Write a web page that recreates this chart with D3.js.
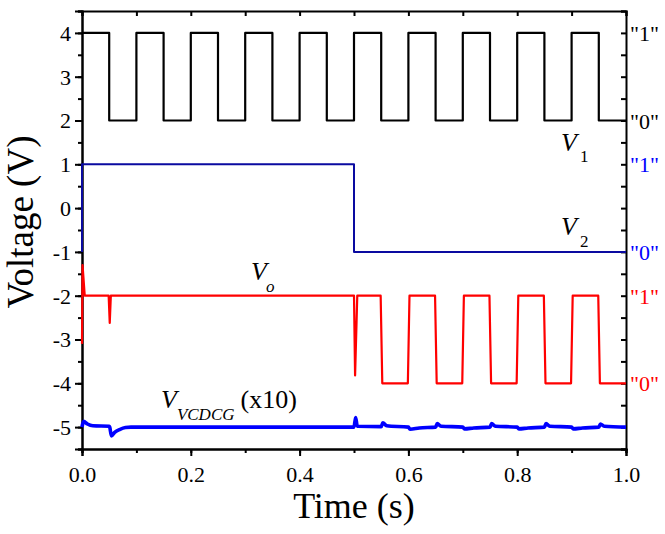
<!DOCTYPE html>
<html>
<head>
<meta charset="utf-8">
<script src="https://cdn.jsdelivr.net/npm/d3@7"></script>
<style>
  body { margin: 0; background: #fff; }
  svg text { font-family: 'Liberation Serif', 'Times New Roman', Times, serif; }
</style>
</head>
<body>
<svg id="chart" width="665" height="534"></svg>
<script>
// V1 square clock (step after)
const v1Time = [0, 0.05, 0.1, 0.15, 0.2, 0.25, 0.3, 0.35, 0.4, 0.45, 0.5,
                0.55, 0.6, 0.65, 0.7, 0.75, 0.8, 0.85, 0.9, 0.95, 1.0];
const v1Volt = [4, 2, 4, 2, 4, 2, 4, 2, 4, 2, 4, 2, 4, 2, 4, 2, 4, 2, 4, 2, 2];

// V2 input
const v2Time = [0, 0, 0.5, 0.5, 1.0];
const v2Volt = [-1, 1, 1, -1, -1];

// Vo output
const voTime = [0, 0.001, 0.005, 0.049, 0.051, 0.053, 0.5, 0.502, 0.506, 0.549, 0.552,
                0.599, 0.602, 0.649, 0.652, 0.699, 0.702, 0.749, 0.752, 0.799, 0.802,
                0.849, 0.852, 0.899, 0.902, 0.949, 0.952, 1.0];
const voVolt = [-3.1, -1.3, -2, -2, -2.62, -2, -2, -3.82, -2, -2, -4,
                -4, -2, -2, -4, -4, -2, -2, -4, -4, -2,
                -2, -4, -4, -2, -2, -4, -4];

// V_VCDCG (x10)
const vgTime = [0, 0.003, 0.01, 0.02, 0.05, 0.051, 0.054, 0.06, 0.07, 0.08, 0.09,
                0.5, 0.503, 0.506, 0.55, 0.553, 0.56, 0.6, 0.603, 0.62, 0.65, 0.653, 0.66,
                0.7, 0.703, 0.72, 0.75, 0.753, 0.76, 0.8, 0.803, 0.82, 0.85, 0.853, 0.86,
                0.9, 0.903, 0.92, 0.95, 0.953, 0.96, 1.0];
const vgVolt = [-5.0, -4.87, -4.93, -4.97, -4.98, -5.0, -5.2, -5.12, -5.05, -5.01, -5.0,
                -5.0, -4.78, -4.98, -4.99, -4.9, -4.97, -5.0, -5.05, -5.02, -5.0, -4.92, -4.98,
                -5.0, -5.04, -5.02, -5.0, -4.92, -4.98, -5.0, -5.04, -5.02, -5.0, -4.92, -4.98,
                -5.0, -5.04, -5.02, -5.0, -4.93, -4.98, -5.0];

// tick labels
const xTicks = [0, 0.2, 0.4, 0.6, 0.8, 1.0];
const yTicks = [4, 3, 2, 1, 0, -1, -2, -3, -4, -5];
const logicLevels = [4, 2, 1, -1, -2, -4];
const logicText = ['"1"', '"0"', '"1"', '"0"', '"1"', '"0"'];
const logicColor = ["#000", "#000", "#0000ff", "#0000ff", "#ff0000", "#ff0000"];

const serif = "'Liberation Serif', 'Times New Roman', Times, serif";
const margin = {top: 11, right: 39, bottom: 85, left: 82};
const width = 665, height = 534;
const iw = width - margin.left - margin.right;
const ih = height - margin.top - margin.bottom;

const svg = d3.select("#chart");
const g = svg.append("g").attr("transform", `translate(${margin.left},${margin.top})`);

const x = d3.scaleLinear().domain([0, 1]).range([0, iw]);
const y = d3.scaleLinear().domain([-5.5, 4.5]).range([ih, 0]);

const minorX = d3.range(0, 1.0001, 0.1);
const minorY = d3.range(-5.5, 4.5001, 0.5);

function styleAxis(sel) {
  sel.attr("font-family", null);
  sel.select(".domain").attr("stroke", "#000").attr("stroke-width", 2);
  sel.selectAll(".tick line").attr("stroke", "#000").attr("stroke-width", 2);
  sel.selectAll("text").attr("fill", "#000").style("font-size", "22px").style("font-family", serif);
}

// minor ticks first
g.append("g").attr("transform", `translate(0,${ih})`)
  .call(d3.axisBottom(x).tickValues(minorX).tickSize(4).tickFormat(""))
  .call(styleAxis);
g.append("g")
  .call(d3.axisLeft(y).tickValues(minorY).tickSize(4).tickFormat(""))
  .call(styleAxis);

// major ticks
g.append("g").attr("transform", `translate(0,${ih})`)
  .call(d3.axisBottom(x).tickValues(xTicks).tickSize(7).tickPadding(10).tickFormat(d3.format(".1f")))
  .call(styleAxis);
g.append("g")
  .call(d3.axisLeft(y).tickValues(yTicks).tickSize(7).tickPadding(4).tickFormat(d => String(d)))
  .call(styleAxis)
  .selectAll("text").attr("dy", "0.34em");

// mirrored top/right axes with inward ticks
g.append("g")
  .call(d3.axisBottom(x).tickValues(minorX).tickSize(5).tickFormat(""))
  .call(styleAxis);
g.append("g").attr("transform", `translate(${iw},0)`)
  .call(d3.axisLeft(y).tickValues(minorY).tickSize(5).tickFormat(""))
  .call(styleAxis);

// traces
function drawTrace(times, volts, color, w, curve) {
  const pts = times.map((t, i) => [t, volts[i]]);
  g.append("path")
    .datum(pts)
    .attr("fill", "none")
    .attr("stroke", color)
    .attr("stroke-width", w)
    .attr("stroke-linejoin", "round")
    .attr("d", d3.line().x(d => x(d[0])).y(d => y(d[1])).curve(curve || d3.curveLinear));
}

drawTrace(v1Time, v1Volt, "#000", 2.2, d3.curveStepAfter);
drawTrace(v2Time, v2Volt, "#0a0aa0", 2, d3.curveLinear);
drawTrace(voTime, voVolt, "#ff0000", 2.2, d3.curveLinear);
drawTrace(vgTime, vgVolt, "#0000ff", 3.6, d3.curveMonotoneX);

// logic level labels on right
svg.append("g").selectAll("text")
  .data(logicLevels)
  .join("text")
  .attr("x", margin.left + iw + 4)
  .attr("y", d => margin.top + y(d) + 8)
  .style("font-size", "22px")
  .attr("fill", (d, i) => logicColor[i])
  .text((d, i) => logicText[i]);

// trace names
function traceLabel(px, py, sub, extra) {
  const t = svg.append("text").attr("x", px).attr("y", py).style("font-size", "26px");
  t.append("tspan").style("font-style", "italic").text("V");
  t.append("tspan").style("font-style", sub.italic ? "italic" : "normal")
    .style("font-size", "17px").attr("dx", sub.dx).attr("dy", sub.dy).text(sub.text);
  if (extra) {
    t.append("tspan").style("font-size", "26px").attr("dx", 6).attr("dy", -sub.dy).text(extra);
  }
}
traceLabel(561, 151, {text: "1", dx: 3, dy: 11, italic: false});
traceLabel(561, 235, {text: "2", dx: 3, dy: 12, italic: false});
traceLabel(251, 280, {text: "o", dx: -1, dy: 12, italic: true});
traceLabel(161, 408, {text: "VCDCG", dx: 0, dy: 12, italic: true}, "(x10)");

// axis titles
svg.append("text")
  .attr("x", margin.left + iw / 2)
  .attr("y", 518)
  .attr("text-anchor", "middle")
  .style("font-size", "36px")
  .text("Time (s)");

svg.append("text")
  .attr("transform", `translate(33,${margin.top + ih / 2 - 8}) rotate(-90)`)
  .attr("text-anchor", "middle")
  .style("font-size", "37px")
  .text("Voltage (V)");
</script>
</body>
</html>
